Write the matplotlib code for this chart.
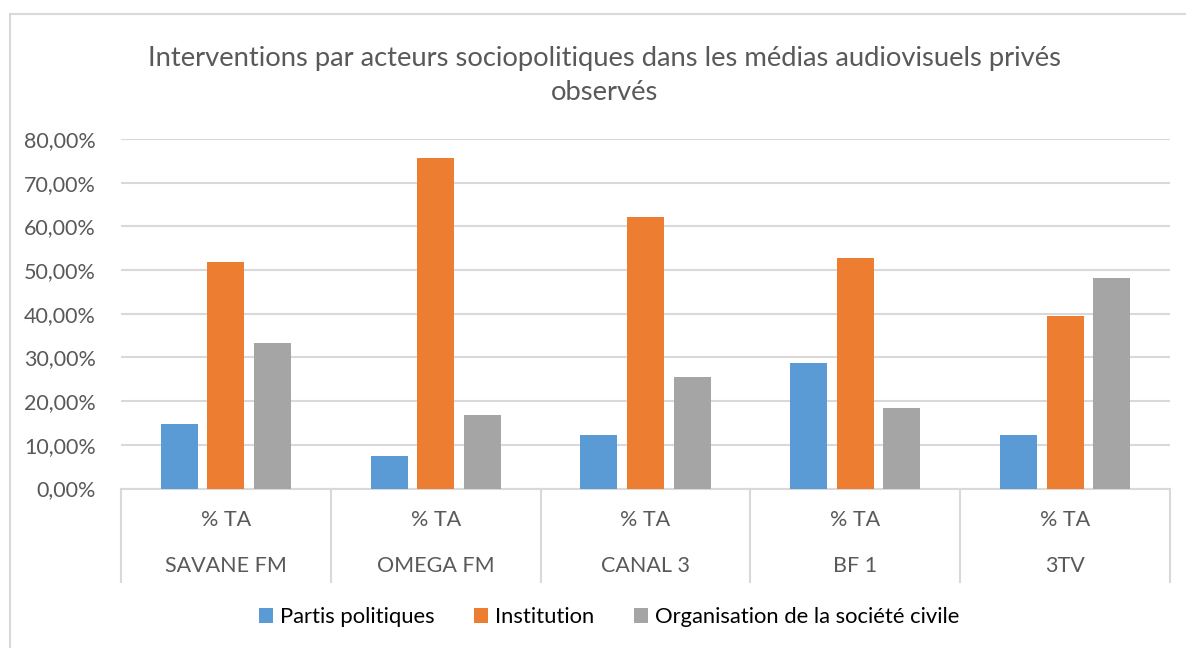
import numpy as np
import matplotlib
matplotlib.use("Agg")
import matplotlib.pyplot as plt
from matplotlib.lines import Line2D
from matplotlib.patches import Patch
from matplotlib.ticker import FuncFormatter

# data (percent of TA)
stations = ["SAVANE FM", "OMEGA FM", "CANAL 3", "BF 1", "3TV"]
sub_label = "% TA"
series_names = ["Partis politiques", "Institution", "Organisation de la société civile"]
partis = [14.7, 7.4, 12.3, 28.8, 12.3]
institution = [51.8, 75.6, 62.1, 52.7, 39.4]
osc = [33.4, 16.8, 25.5, 18.4, 48.2]
yticks = [0, 10, 20, 30, 40, 50, 60, 70, 80]

colors = ["#5B9BD5", "#ED7D31", "#A5A5A5"]
txt = "#595959"
grid = "#D9D9D9"
fs = 15.5

plt.rcParams["font.family"] = ["Lato", "DejaVu Sans"]

W, H = 1186, 648
fig = plt.figure(figsize=(W / 100, H / 100), dpi=100)

# outer chart border (clipped on right/bottom like the source)
fig.add_artist(Line2D([10 / W, 1], [1 - 14 / H, 1 - 14 / H], color=grid, lw=1.5))
fig.add_artist(Line2D([10 / W, 10 / W], [0, 1 - 14 / H], color=grid, lw=1.5))

x0, x1, ytop, ybot = 121, 1170, 139, 488.5
ax = fig.add_axes([x0 / W, 1 - ybot / H, (x1 - x0) / W, (ybot - ytop) / H])

x = np.arange(len(stations))
step, bw = 0.222, 0.177
for i, vals in enumerate([partis, institution, osc]):
    ax.bar(x + (i - 1) * step, vals, width=bw, color=colors[i], zorder=3)

ax.set_xlim(-0.5, len(stations) - 0.5)
ax.set_ylim(0, 80)
ax.set_yticks(yticks)
ax.yaxis.set_major_formatter(FuncFormatter(lambda v, p: f"{v:.2f}%".replace(".", ",")))
ax.tick_params(axis="y", length=0, pad=18, labelsize=fs, labelcolor=txt)
ax.set_xticks([])
ax.grid(axis="y", color=grid, lw=1.5, zorder=0)
for s in ["top", "right", "left"]:
    ax.spines[s].set_visible(False)
ax.spines["bottom"].set_color(grid)
ax.spines["bottom"].set_linewidth(1.5)

# two-level category axis
trans = ax.get_xaxis_transform()
sep_bottom = (ybot - 582) / (ybot - ytop)
for b in np.arange(len(stations) + 1) - 0.5:
    ax.plot([b, b], [0, sep_bottom], transform=trans, color=grid, lw=1.5, clip_on=False)
for xi, name in zip(x, stations):
    ax.text(xi, (ybot - 520) / (ybot - ytop), sub_label, transform=trans,
            ha="center", va="center", fontsize=fs, color=txt)
    ax.text(xi, (ybot - 566) / (ybot - ytop), name, transform=trans,
            ha="center", va="center", fontsize=fs, color=txt)

fig.text(605 / W, 1 - 75.5 / H,
         "Interventions par acteurs sociopolitiques dans les médias audiovisuels privés\nobservés",
         ha="center", va="center", fontsize=19.7, color=txt, linespacing=1.45)

handles = [Patch(facecolor=c, edgecolor="none") for c in colors]
fig.legend(handles, series_names, loc="center", bbox_to_anchor=(609 / W, 1 - 617 / H),
           ncol=3, frameon=False, fontsize=15.8, handlelength=0.64, handleheight=0.64,
           handletextpad=0.32, columnspacing=1.8, labelcolor="black")

fig.savefig("out.png", dpi=100)
